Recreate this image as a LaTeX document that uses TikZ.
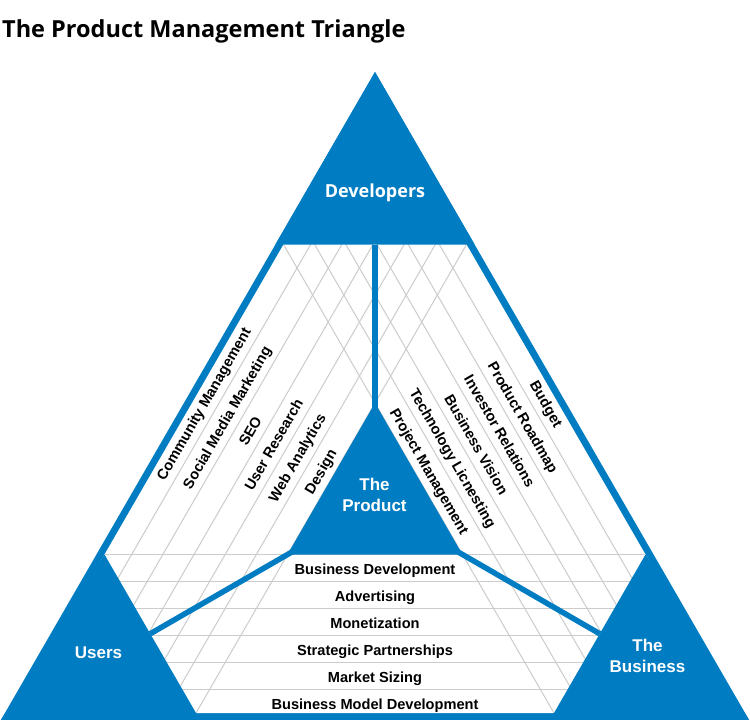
\documentclass[tikz,border=0pt]{standalone}
\usepackage{fontspec}
\newfontfamily\labfont{Liberation Sans}
\newfontfamily\ofont{Open Sans}
\usetikzlibrary{calc}
\definecolor{pmblue}{RGB}{0,124,194}
\definecolor{gridgray}{RGB}{204,204,204}
\begin{document}
\begin{tikzpicture}[x=1pt,y=-1pt,
  lab/.style={font=\labfont\bfseries\fontsize{14.6}{16}\selectfont, inner sep=0pt, text height=10.4pt, text depth=0pt, anchor=center},
  cornertri/.style={fill=pmblue, draw=none},
  gridline/.style={draw=gridgray, line width=1pt},
  conn/.style={draw=pmblue, line width=5.5pt},
  big/.style={font=\labfont\bfseries\fontsize{17}{21}\selectfont, text=white, align=center, inner sep=0pt}]
\useasboundingbox (0,0) rectangle (750,720);
% outer and inner triangle
\coordinate (oA) at (375,72);
\coordinate (oL) at (0.9,720);
\coordinate (oR) at (749.1,720);
\coordinate (iA) at (375,86);
\coordinate (iL) at (13,713);
\coordinate (iR) at (737,713);
% corner triangles
\coordinate (dL) at (283.5,244.5);
\coordinate (dR) at (466.5,244.5);
\coordinate (dLo) at (275.4,244.5);
\coordinate (dRo) at (474.6,244.5);
\coordinate (uA) at (104.5,554.5);
\coordinate (uR) at (196,713);
\coordinate (uRo) at (200,720);
\coordinate (bA) at (645.5,554.5);
\coordinate (bL) at (554,713);
\coordinate (bLo) at (550,720);
% product
\coordinate (pA) at (375,403);
\coordinate (pL) at (287.5,554.5);
\coordinate (pR) at (462.5,554.5);
\coordinate (C) at (375,504);
\coordinate (devmid) at (375,244.5);
\coordinate (umid) at (150.25,633.75);
\coordinate (bmid) at (599.75,633.75);

\fill[pmblue] (oA) -- (oL) -- (oR) -- cycle;
\fill[white] (iA) -- (iL) -- (iR) -- cycle;

\begin{scope}
\clip (iA) -- (iL) -- (iR) -- cycle;
\foreach \D in {23.5,50.5,77.5,104.5,131.5,158.5}{
  \pgfmathsetmacro\xl{13+\D*1.1547}
  \pgfmathsetmacro\xr{737-\D*1.1547}
  \pgfmathsetmacro\yh{713-\D}
  \draw[gridline] (\xl-5,721.66) -- (\xl+400,20.2);
  \draw[gridline] (\xr+5,721.66) -- (\xr-400,20.2);
  \draw[gridline] (0,\yh) -- (750,\yh);
}
\end{scope}

% connectors
\draw[conn] (C) -- (devmid);
\draw[conn] (C) -- (umid);
\draw[conn] (C) -- (bmid);

% corner triangles and product
\fill[cornertri] (oA) -- (dLo) -- (dL) -- (dR) -- (dRo) -- cycle;
\fill[cornertri] (oL) -- (uA) -- (uR) -- (uRo) -- cycle;
\fill[cornertri] (oR) -- (bA) -- (bL) -- (bLo) -- cycle;
\fill[cornertri] (pA) -- (pL) -- (pR) -- cycle;

% title
\node[anchor=base west, inner sep=0pt, font=\ofont\bfseries\fontsize{23.5}{28}\selectfont] (title) at (2,37) {The Product Management Triangle};

% corner labels
\node[font=\ofont\bfseries\fontsize{18}{21}\selectfont, text=white, inner sep=0pt, text height=12.9pt, text depth=0pt] (devlab) at (375,191) {Developers};
\node[big, text height=12.5pt, text depth=0pt] (userlab) at (98.5,652.5) {Users};
\node[big] (prodlab) at (374.5,494.5) {The\\Product};
\node[big] (buslab) at (647.5,655.5) {The\\Business};

% left labels
\node[lab, rotate=60] (l1) at (203.5,404) {Community Management};
\node[lab, rotate=60] (l2) at (226.8,417.5) {Social Media Marketing};
\node[lab, rotate=60] (l3) at (250.2,431) {SEO};
\node[lab, rotate=60] (l4) at (273.6,444.5) {User Research};
\node[lab, rotate=60] (l5) at (297.0,458) {Web Analytics};
\node[lab, rotate=60] (l6) at (320.4,471.5) {Design};
% right labels
\node[lab, rotate=-60] (r1) at (546.5,404) {Budget};
\node[lab, rotate=-60] (r2) at (523.2,417.5) {Product Roadmap};
\node[lab, rotate=-60] (r3) at (499.8,431) {Investor Relations};
\node[lab, rotate=-60] (r4) at (476.4,444.5) {Business Vision};
\node[lab, rotate=-60] (r5) at (453.0,458) {Technology Licnesting};
\node[lab, rotate=-60] (r6) at (429.6,471.5) {Project Management};
% bottom labels
\node[lab] (b1) at (375,569) {Business Development};
\node[lab] (b2) at (375,596) {Advertising};
\node[lab] (b3) at (375,623) {Monetization};
\node[lab] (b4) at (375,650) {Strategic Partnerships};
\node[lab] (b5) at (375,677) {Market Sizing};
\node[lab] (b6) at (375,704) {Business Model Development};
\end{tikzpicture}
\end{document}
